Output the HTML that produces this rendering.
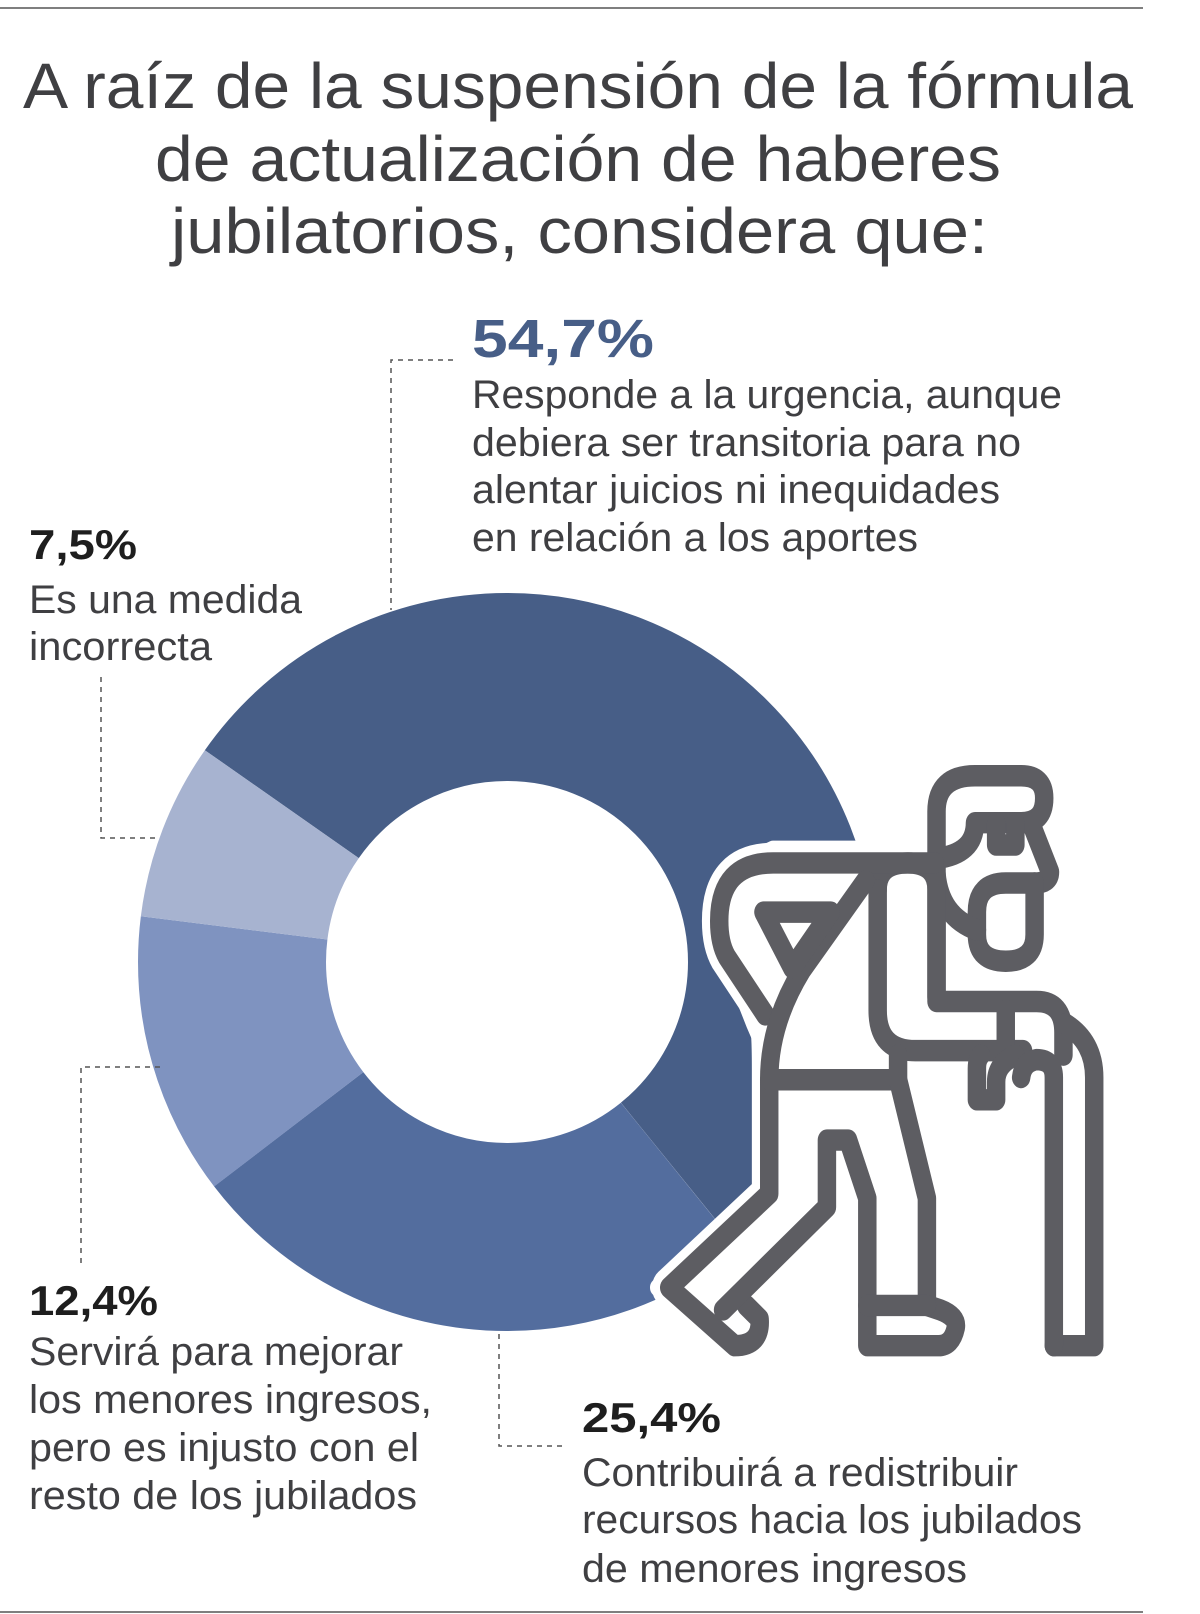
<!DOCTYPE html>
<html><head><meta charset="utf-8"><style>
html,body{margin:0;padding:0;background:#fff;}
svg{display:block;}
text{font-family:"Liberation Sans",sans-serif;}
</style></head><body>
<svg width="1200" height="1614" viewBox="0 0 1200 1614" xmlns="http://www.w3.org/2000/svg">
<line x1="0" y1="8" x2="1143" y2="8" stroke="#555" stroke-width="1.5"/>
<line x1="0" y1="1612" x2="1143" y2="1612" stroke="#555" stroke-width="1.5"/>
<g fill="#3f3f42" font-size="64">
<text x="23" y="108" textLength="1110" lengthAdjust="spacingAndGlyphs">A raíz de la suspensión de la fórmula</text>
<text x="155" y="181" textLength="846" lengthAdjust="spacingAndGlyphs">de actualización de haberes</text>
<text x="171" y="253" textLength="817" lengthAdjust="spacingAndGlyphs">jubilatorios, considera que:</text>
</g>
<g fill="none" stroke-width="188" transform="rotate(-90 507 962)">
<circle cx="507" cy="962" r="275" stroke="#475e87" stroke-dasharray="940.7 787.2" stroke-dashoffset="-1463.9"/>
<circle cx="507" cy="962" r="275" stroke="#536d9e" stroke-dasharray="439.2 1288.7" stroke-dashoffset="-676.8"/>
<circle cx="507" cy="962" r="275" stroke="#7f93c0" stroke-dasharray="214.1 1513.8" stroke-dashoffset="-1115.9"/>
<circle cx="507" cy="962" r="275" stroke="#a7b3d0" stroke-dasharray="133.9 1594" stroke-dashoffset="-1330"/>
</g>
<g fill="none" stroke="#555" stroke-width="1.5" stroke-dasharray="5 5">
<polyline points="453,360 391,360 391,610"/>
<polyline points="101,677 101,838 155,838"/>
<polyline points="160,1067 81,1067 81,1267"/>
<polyline points="499,1334 499,1446 564,1446"/>
</g>
<g transform="translate(600,702) scale(0.3846,0.447)" stroke-linejoin="round" stroke-linecap="round">
<polygon fill="#fff" stroke="#fff" stroke-width="40" points="290,480 330,380 450,330 880,330 880,1120 720,1120 400,1420 330,1470 150,1310 415,1090 415,750 400,720"/>
<g fill="none" stroke="#fff" stroke-width="90">
<path d="M870,360 H450 Q310,360 310,490 Q310,540 330,570 L430,700 Q440,720 440,820 V1100 L180,1310 L350,1440 Q420,1430 400,1370"/>
</g>
<g fill="none" stroke="#5d5d62" stroke-width="48">
<path d="M875,660 V245 Q875,165 975,165 H1095 Q1155,165 1155,215 Q1155,270 1095,270 H975 Q975,340 875,350"/>
<path d="M1120,270 L1170,380 Q1170,405 1130,405"/>
<path d="M1130,405 H1055 Q980,405 980,470 V520 Q980,580 1055,580 Q1130,580 1130,520 V405"/>
<path d="M875,385 Q885,480 980,510"/>
<path d="M1030,270 V320 H1080 V270"/>
<path d="M722,420 Q722,360 800,360 Q875,360 875,420 V670 H1135 Q1205,670 1205,740 V790"/>
<path d="M722,420 V690 Q722,780 820,780 H1100"/>
<path d="M1055,690 V780"/>
<path d="M1080,790 Q1030,810 1030,850 V890 H980 V820 Q980,800 990,790"/>
<path d="M870,360 H450 Q310,360 310,490 Q310,540 330,570 L430,700"/>
<path d="M690,400 L525,600 Q440,720 440,845 V1100 L180,1310 L350,1440 Q420,1440 415,1380 L380,1350"/>
<path d="M425,470 H600 L500,595 Z"/>
<path d="M440,845 H775"/>
<path d="M775,790 V845 L850,1110 V1350 L885,1360 Q930,1375 925,1400 Q915,1440 880,1440 H695 V1110 L645,980 H590 V1130 L320,1360"/>
<path d="M695,1350 H850"/>
<path d="M1180,1440 H1285 V840 Q1285,760 1210,720"/>
<path d="M1180,1440 V840 Q1180,800 1135,800 Q1100,805 1095,840"/>
</g>
</g>
<text x="472" y="357" font-size="54" font-weight="bold" fill="#475e87" textLength="182" lengthAdjust="spacingAndGlyphs">54,7%</text>
<g fill="#3f3f42" font-size="40">
<text x="472" y="408" textLength="590" lengthAdjust="spacingAndGlyphs">Responde a la urgencia, aunque</text>
<text x="472" y="456" textLength="549" lengthAdjust="spacingAndGlyphs">debiera ser transitoria para no</text>
<text x="472" y="503" textLength="528" lengthAdjust="spacingAndGlyphs">alentar juicios ni inequidades</text>
<text x="472" y="551" textLength="446" lengthAdjust="spacingAndGlyphs">en relación a los aportes</text>
<text x="29" y="613" textLength="273" lengthAdjust="spacingAndGlyphs">Es una medida</text>
<text x="29" y="660" textLength="183" lengthAdjust="spacingAndGlyphs">incorrecta</text>
<text x="29" y="1365" textLength="374" lengthAdjust="spacingAndGlyphs">Servirá para mejorar</text>
<text x="29" y="1413" textLength="403" lengthAdjust="spacingAndGlyphs">los menores ingresos,</text>
<text x="29" y="1461" textLength="390" lengthAdjust="spacingAndGlyphs">pero es injusto con el</text>
<text x="29" y="1509" textLength="388" lengthAdjust="spacingAndGlyphs">resto de los jubilados</text>
<text x="582" y="1486" textLength="436" lengthAdjust="spacingAndGlyphs">Contribuirá a redistribuir</text>
<text x="582" y="1533" textLength="500" lengthAdjust="spacingAndGlyphs">recursos hacia los jubilados</text>
<text x="582" y="1582" textLength="385" lengthAdjust="spacingAndGlyphs">de menores ingresos</text>
</g>
<g fill="#1e1e1e" font-size="42" font-weight="bold">
<text x="29" y="559" textLength="108" lengthAdjust="spacingAndGlyphs">7,5%</text>
<text x="29" y="1315" textLength="129" lengthAdjust="spacingAndGlyphs">12,4%</text>
<text x="582" y="1432" textLength="139" lengthAdjust="spacingAndGlyphs">25,4%</text>
</g>
</svg>
</body></html>
